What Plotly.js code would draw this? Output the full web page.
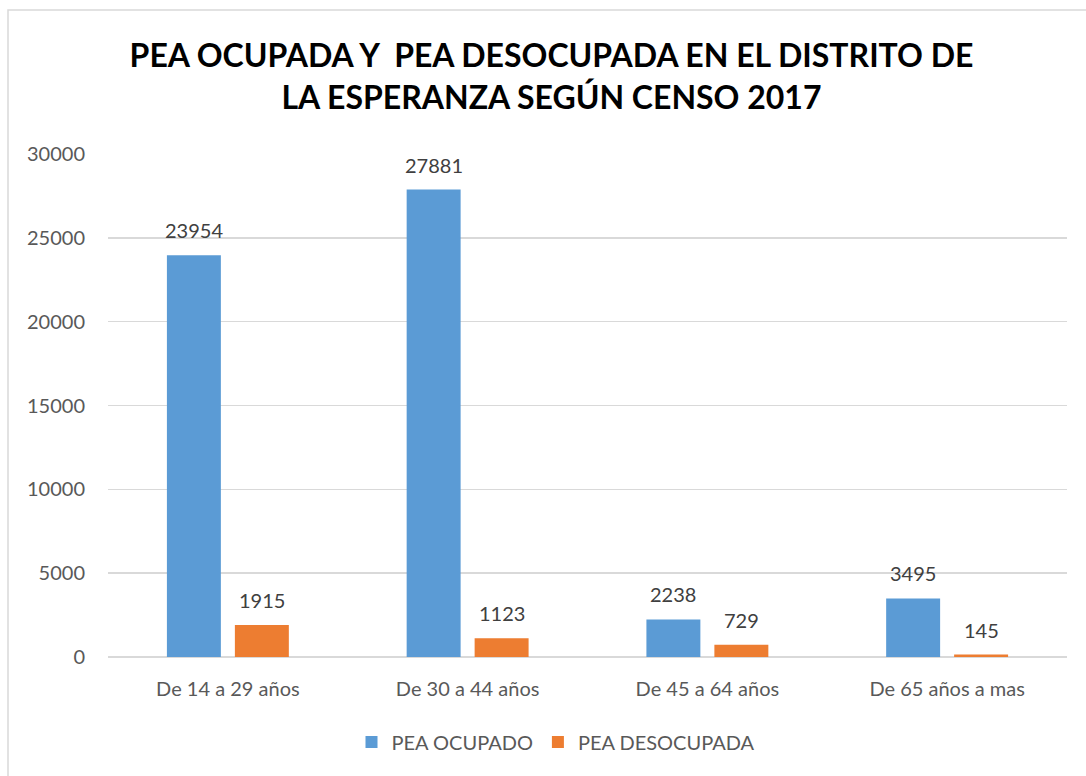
<!DOCTYPE html>
<html><head><meta charset="utf-8">
<script src="https://cdn.plot.ly/plotly-3.0.1.min.js"></script>
<style>html,body{margin:0;padding:0;overflow:hidden;background:#fff}#chart{width:1086px;height:776px}</style>
</head><body><div id="chart"></div>
<script>
const categories = ["De 14 a 29 años", "De 30 a 44 años", "De 45 a 64 años", "De 65 años a mas"];
const peaOcupado = [23954, 27881, 2238, 3495];
const peaDesocupada = [1915, 1123, 729, 145];
const seriesNames = ["PEA OCUPADO", "PEA DESOCUPADA"];
const titleText = "PEA OCUPADA Y  PEA DESOCUPADA EN EL DISTRITO DE<br>LA ESPERANZA SEGÚN CENSO 2017";

const font = "Lato, 'Open Sans', sans-serif";
const labelFont = {family: font, size: 20, color: "#404040"};

const traces = [
  {type: "bar", name: seriesNames[0], x: categories, y: peaOcupado, marker: {color: "#5B9BD5"}, hoverinfo: "x+y"},
  {type: "bar", name: seriesNames[1], x: categories, y: peaDesocupada, marker: {color: "#ED7D31"}, hoverinfo: "x+y"}
];

const annotations = [];
categories.forEach((c, i) => {
  annotations.push({x: c, y: peaOcupado[i], xref: "x", yref: "y", text: String(peaOcupado[i]),
    showarrow: false, yanchor: "bottom", xanchor: "center", xshift: -34, yshift: 11, font: labelFont});
  annotations.push({x: c, y: peaDesocupada[i], xref: "x", yref: "y", text: String(peaDesocupada[i]),
    showarrow: false, yanchor: "bottom", xanchor: "center", xshift: 34, yshift: 11, font: labelFont});
});

const layout = {
  width: 1086, height: 776,
  margin: {l: 108, r: 19, t: 154, b: 119, pad: 0},
  paper_bgcolor: "#ffffff", plot_bgcolor: "#ffffff",
  barmode: "group", bargap: 0.433, bargroupgap: 0.206,
  title: {text: titleText, font: {family: font, size: 32, color: "#000000", weight: "bold"},
          x: 551.5/1086, xanchor: "center", xref: "container", y: 1 - 67/776, yanchor: "top", yref: "container"},
  xaxis: {type: "category", showgrid: false, zeroline: false, showline: false, ticks: "",
          tickfont: {family: font, size: 20, color: "#595959"}, ticklabelstandoff: 18},
  yaxis: {range: [0, 30000], dtick: 5000, tick0: 0, showgrid: true, gridcolor: "#D9D9D9", gridwidth: 1.5,
          zeroline: true, zerolinecolor: "#D9D9D9", zerolinewidth: 1.5, showline: false, ticks: "",
          tickfont: {family: font, size: 20, color: "#595959"}, ticklabelstandoff: 22, tickformat: "d"},
  showlegend: true,
  legend: {orientation: "h", xref: "container", yref: "container", x: 556/1086, xanchor: "center",
           y: 1 - 742/776, yanchor: "middle", font: {family: font, size: 20, color: "#595959"},
           traceorder: "normal", itemwidth: 30},
  annotations: annotations,
  shapes: [{type: "rect", xref: "paper", yref: "paper", x0: (8-108)/959, x1: (1092-108)/959,
            y0: (657-790)/503, y1: (657-10)/503, line: {color: "#D9D9D9", width: 1.5}, fillcolor: "rgba(0,0,0,0)", layer: "below"}],
  font: {family: font}
};

Plotly.newPlot("chart", traces, layout, {displayModeBar: false, staticPlot: true});
</script></body></html>
